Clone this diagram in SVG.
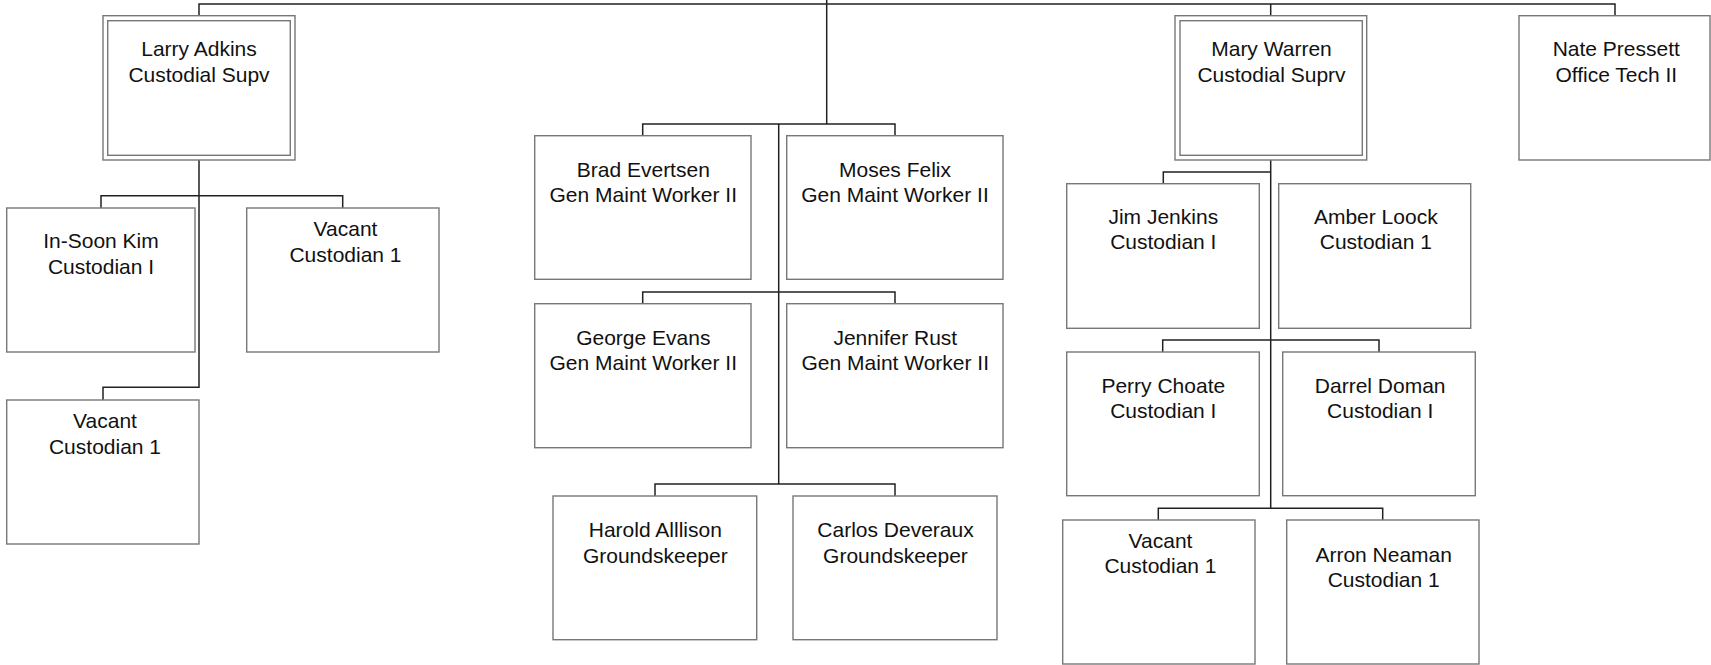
<svg xmlns="http://www.w3.org/2000/svg" width="1711" height="665" viewBox="0 0 1711 665">
<style>
.box{fill:#fff;stroke:#777;stroke-width:1.4}
.c{fill:none;stroke:#222;stroke-width:1.5}
text{font-family:"Liberation Sans",Arial,sans-serif;font-size:21px;fill:#111;text-anchor:middle}
</style>
<rect width="1711" height="665" fill="#fff"/>
<g id="connectors">
<path class="c" d="M199,15.7 V4 H1615 V15.7"/>
<path class="c" d="M826.7,0 V124"/>
<path class="c" d="M1270.7,4 V15.7"/>
<path class="c" d="M199,160 V387.3 H103 V400"/>
<path class="c" d="M101,208 V195.7 H342.7 V208"/>
<path class="c" d="M642.7,135.7 V124 H895 V135.7"/>
<path class="c" d="M778.7,124 V484"/>
<path class="c" d="M642.7,303.7 V292 H895 V303.7"/>
<path class="c" d="M655,496 V484 H895 V496"/>
<path class="c" d="M1270.7,160 V508.3"/>
<path class="c" d="M1270.7,172 H1163.3 V183.7"/>
<path class="c" d="M1162.7,352 V340 H1379 V352"/>
<path class="c" d="M1158.3,520 V508.3 H1382.7 V520"/>
</g>
<g id="larry">
<rect class="box" x="103" y="15.7" width="192" height="144.3"/>
<rect class="box" x="107.7" y="20.7" width="182.6" height="134.6"/>
<text x="199" y="56">Larry Adkins</text>
<text x="199" y="82">Custodial Supv</text>
</g>
<g id="insoon">
<rect class="box" x="6.7" y="208" width="188.3" height="144"/>
<text x="101" y="248.3">In-Soon Kim</text>
<text x="101" y="274">Custodian I</text>
</g>
<g id="vacant1">
<rect class="box" x="246.7" y="208" width="192.3" height="144"/>
<text x="345.5" y="236">Vacant</text>
<text x="345.5" y="261.5">Custodian 1</text>
</g>
<g id="vacant2">
<rect class="box" x="6.7" y="400" width="192.3" height="144"/>
<text x="105" y="428.3">Vacant</text>
<text x="105" y="454">Custodian 1</text>
</g>
<g id="brad">
<rect class="box" x="534.7" y="135.7" width="216.3" height="143.6"/>
<text x="643.3" y="176.7">Brad Evertsen</text>
<text x="643.3" y="201.7">Gen Maint Worker II</text>
</g>
<g id="moses">
<rect class="box" x="786.7" y="135.7" width="216.3" height="143.6"/>
<text x="895" y="176.7">Moses Felix</text>
<text x="895" y="201.7">Gen Maint Worker II</text>
</g>
<g id="george">
<rect class="box" x="534.7" y="303.7" width="216.3" height="144"/>
<text x="643.3" y="345">George Evans</text>
<text x="643.3" y="370">Gen Maint Worker II</text>
</g>
<g id="jennifer">
<rect class="box" x="786.7" y="303.7" width="216.3" height="144"/>
<text x="895.3" y="345">Jennifer Rust</text>
<text x="895.3" y="370">Gen Maint Worker II</text>
</g>
<g id="harold">
<rect class="box" x="553" y="496" width="203.7" height="143.7"/>
<text x="655.3" y="536.7">Harold Alllison</text>
<text x="655.3" y="562.7">Groundskeeper</text>
</g>
<g id="carlos">
<rect class="box" x="793" y="496" width="204" height="143.7"/>
<text x="895.5" y="536.7">Carlos Deveraux</text>
<text x="895.5" y="562.7">Groundskeeper</text>
</g>
<g id="mary">
<rect class="box" x="1175" y="15.7" width="191.7" height="144.3"/>
<rect class="box" x="1180" y="20.7" width="182.3" height="134.6"/>
<text x="1271.5" y="56">Mary Warren</text>
<text x="1271.5" y="82">Custodial Suprv</text>
</g>
<g id="nate">
<rect class="box" x="1519" y="15.7" width="191" height="144.3"/>
<text x="1616.3" y="56">Nate Pressett</text>
<text x="1616.3" y="82">Office Tech II</text>
</g>
<g id="jim">
<rect class="box" x="1066.7" y="183.7" width="192.6" height="144.6"/>
<text x="1163.3" y="224.3">Jim Jenkins</text>
<text x="1163.3" y="249.3">Custodian I</text>
</g>
<g id="amber">
<rect class="box" x="1278.7" y="183.7" width="192" height="144.6"/>
<text x="1375.8" y="224.3">Amber Loock</text>
<text x="1375.8" y="249.3">Custodian 1</text>
</g>
<g id="perry">
<rect class="box" x="1066.7" y="352" width="192.6" height="143.7"/>
<text x="1163.3" y="392.7">Perry Choate</text>
<text x="1163.3" y="417.7">Custodian I</text>
</g>
<g id="darrel">
<rect class="box" x="1282.7" y="352" width="192.6" height="143.7"/>
<text x="1380.2" y="392.7">Darrel Doman</text>
<text x="1380.2" y="417.7">Custodian I</text>
</g>
<g id="vacant3">
<rect class="box" x="1062.7" y="520" width="192.3" height="144"/>
<text x="1160.5" y="548.3">Vacant</text>
<text x="1160.5" y="573.3">Custodian 1</text>
</g>
<g id="arron">
<rect class="box" x="1286.7" y="520" width="192.3" height="144"/>
<text x="1383.7" y="561.7">Arron Neaman</text>
<text x="1383.7" y="586.7">Custodian 1</text>
</g>
</svg>
